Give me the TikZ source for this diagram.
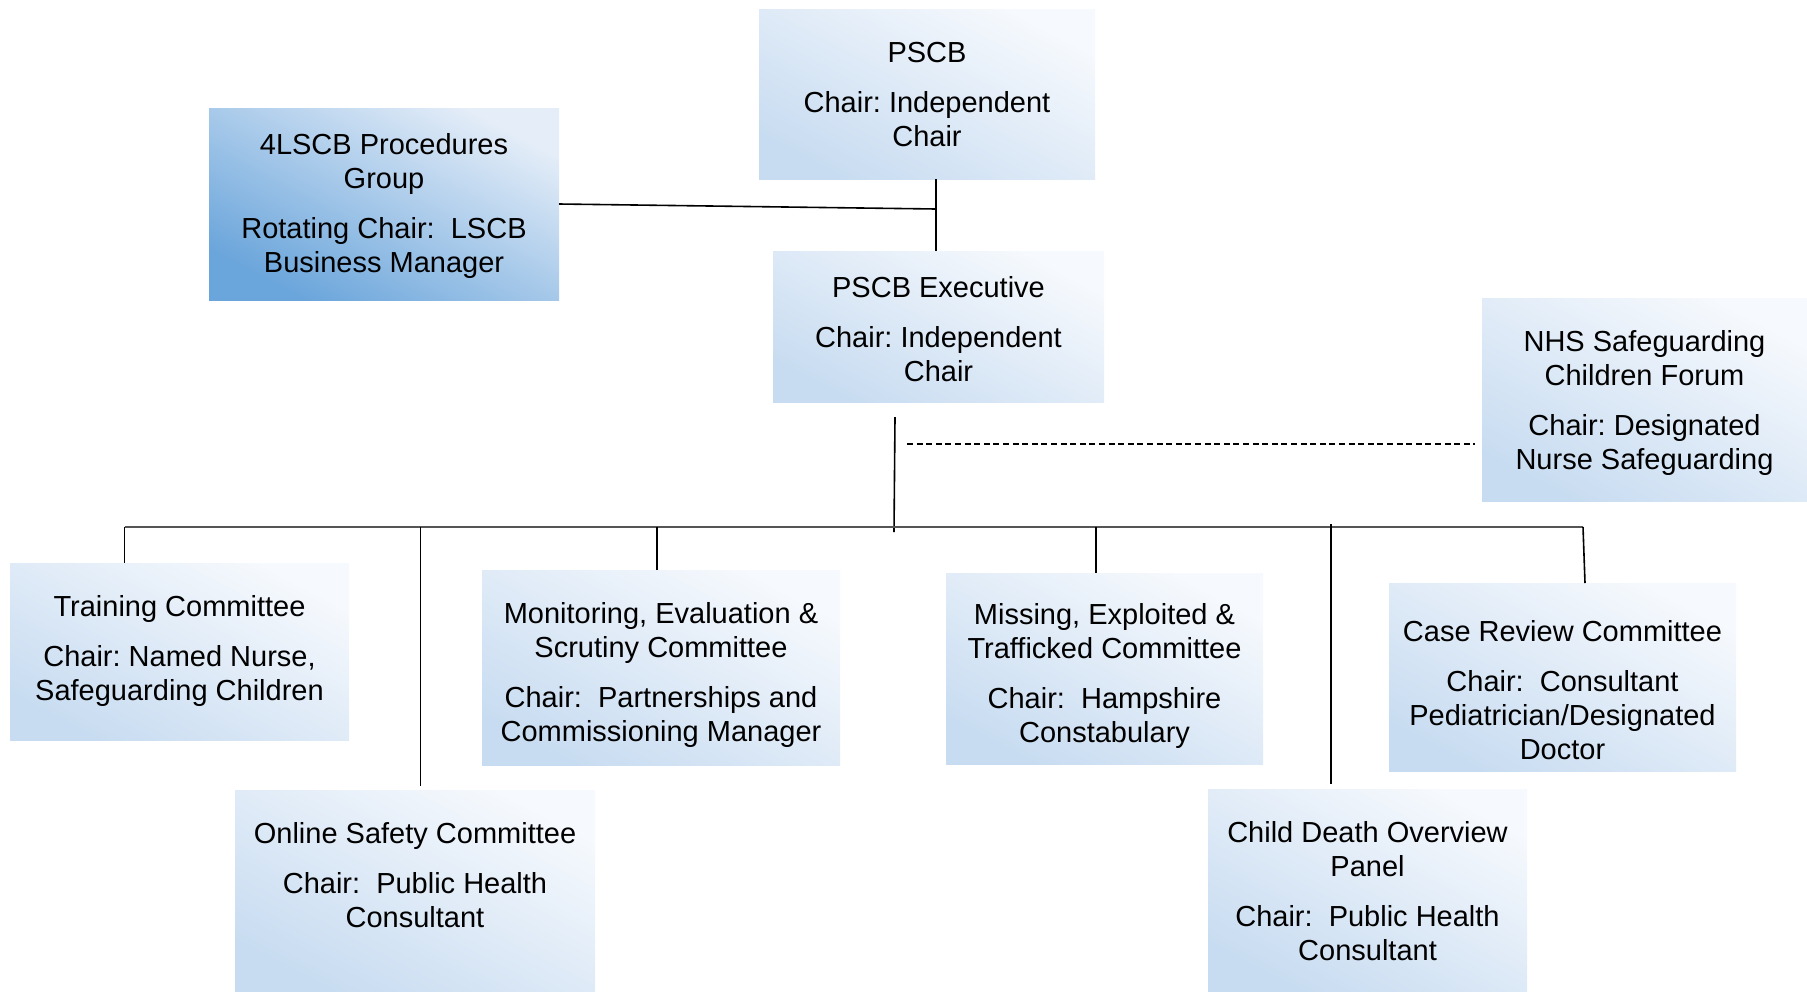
\documentclass[tikz,border=0pt]{standalone}
\usepackage{fontspec}
\setmainfont{Liberation Sans}
\usetikzlibrary{fit}
\frenchspacing
\definecolor{bdark}{HTML}{C8DCF1}
\definecolor{blight}{HTML}{F6F9FD}
\definecolor{ddark}{HTML}{6AA5DB}
\definecolor{dlight}{HTML}{E4EDF8}
\definecolor{busgray}{HTML}{555555}
\tikzset{
  orgbox/.style={inner sep=0pt, outer sep=0pt, shading=axis, top color=bdark, bottom color=blight, shading angle=152},
  darkbox/.style={orgbox, top color=ddark, bottom color=dlight, shading angle=152},
  txt/.style={anchor=north, inner sep=0pt, align=center, font=\fontsize{29}{34}\selectfont},
  conn/.style={draw=black, line width=1.6pt},
  busline/.style={draw=busgray, line width=1.8pt},
  dashline/.style={draw=black, line width=1.6pt, dash pattern=on 6pt off 3.6pt}
}
\newcommand{\fs}{\rule{0pt}{30pt}}
\begin{document}
\begin{tikzpicture}[x=1pt,y=-1pt]
\useasboundingbox (0,0) rectangle (1807,991);
% boxes
\node[orgbox, fit={(759,9) (1095,179)}] (pscb) {};
\node[darkbox, fit={(209,108) (559,300)}] (lscb) {};
\node[orgbox, fit={(773,251) (1104,402)}] (exec) {};
\node[orgbox, fit={(1482,298) (1807,501)}] (nhs) {};
\node[orgbox, fit={(10,563) (349,740)}] (train) {};
\node[orgbox, fit={(235,790) (595,991)}] (online) {};
\node[orgbox, fit={(482,570) (840,765)}] (monit) {};
\node[orgbox, fit={(946,573) (1263,764)}] (missing) {};
\node[orgbox, fit={(1208,789) (1527,991)}] (cdop) {};
\node[orgbox, fit={(1389,583) (1736,771)}] (caserev) {};
% texts
\node[txt] (pscbT) at ([yshift=-23pt]pscb.north) {\fs PSCB\\[16pt]Chair: Independent\\Chair};
\node[txt] (lscbT) at ([yshift=-16pt]lscb.north) {\fs 4LSCB Procedures\\Group\\[16pt]Rotating Chair:\ \ LSCB\\Business Manager};
\node[txt] (execT) at ([yshift=-16pt]exec.north) {\fs PSCB Executive\\[16pt]Chair: Independent\\Chair};
\node[txt] (nhsT) at ([yshift=-23pt]nhs.north) {\fs NHS Safeguarding\\Children Forum\\[16pt]Chair: Designated\\Nurse Safeguarding};
\node[txt] (trainT) at ([yshift=-23pt]train.north) {\fs Training Committee\\[16pt]Chair: Named Nurse,\\Safeguarding Children};
\node[txt] (onlineT) at ([yshift=-23pt]online.north) {\fs Online Safety Committee\\[16pt]Chair:\ \ Public Health\\Consultant};
\node[txt] (monitT) at ([yshift=-23pt]monit.north) {\fs Monitoring, Evaluation \&\\Scrutiny Committee\\[16pt]Chair:\ \ Partnerships and\\Commissioning Manager};
\node[txt] (missingT) at ([yshift=-21pt]missing.north) {\fs Missing, Exploited \&\\Trafficked Committee\\[16pt]Chair:\ \ Hampshire\\Constabulary};
\node[txt] (cdopT) at ([yshift=-23pt]cdop.north) {\fs Child Death Overview\\Panel\\[16pt]Chair:\ \ Public Health\\Consultant};
\node[txt] (caserevT) at ([yshift=-28pt]caserev.north) {\fs Case Review Committee\\[16pt]Chair:\ \ Consultant\\Pediatrician/Designated\\Doctor};
% connectors
\coordinate (j1) at (936,209);
\draw[conn] (lscb.east) -- (j1);
\draw[conn] (pscb.south -| j1) -- (exec.north -| j1);
\coordinate (eTop) at (895,417);
\coordinate (eBot) at (894,532);
\draw[conn] (eTop) -- (eBot);
\coordinate (dashL) at (907,444);
\draw[dashline] (dashL) -- ([xshift=-7pt]nhs.west |- dashL);
\coordinate (busL) at (124.5,527);
\coordinate (busR) at (1583,527);
\draw[busline] (busL) -- (busR);
\draw[conn] (busL) -- (busL |- train.north);
\coordinate (dOn) at (420.6,527);
\draw[conn] (dOn) -- ([yshift=4pt]dOn |- online.north);
\coordinate (dMo) at (657,527);
\draw[conn] (dMo) -- (dMo |- monit.north);
\coordinate (dMi) at (1096,527);
\draw[conn] (dMi) -- (dMi |- missing.north);
\coordinate (dCd) at (1331,524);
\draw[conn] (dCd) -- ([yshift=5pt]dCd |- cdop.north);
\coordinate (dCr) at (1585,583);
\draw[conn] (busR) -- (dCr |- caserev.north);
\end{tikzpicture}
\end{document}
